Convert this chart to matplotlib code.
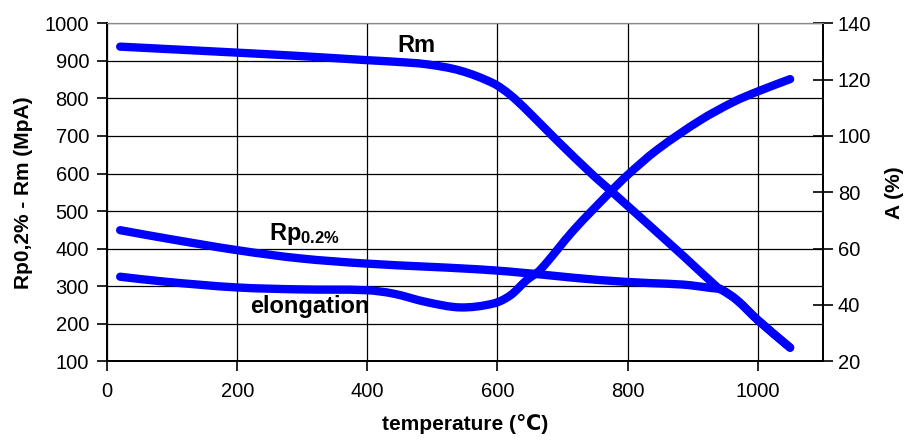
import numpy as np
import matplotlib.pyplot as plt
from matplotlib.path import Path
from matplotlib.patches import PathPatch

plt.rcParams['font.family'] = ['Liberation Sans', 'DejaVu Sans']
plt.rcParams['mathtext.fontset'] = 'custom'
plt.rcParams['mathtext.rm'] = 'Liberation Sans'
plt.rcParams['mathtext.bf'] = 'Liberation Sans:bold'

# strength curves (left axis, MPa)
rm_temp = [20, 200, 296, 399, 440, 491, 543, 594, 620, 645, 691, 748, 773, 886, 938, 945, 968, 1000, 1050]
rm_vals = [938, 922, 913, 902, 898, 891, 874, 840, 809, 769, 689, 594, 556, 380, 297, 290, 263, 210, 136]

rp_temp = [20, 91, 199, 296, 399, 594, 758, 835, 886, 928, 945, 968, 1000, 1050]
rp_vals = [449, 427, 396, 374, 360, 342, 316, 308, 304, 295, 290, 263, 210, 136]

# elongation (right axis, %)
a_temp = [20, 91, 199, 296, 399, 440, 491, 543, 594, 620, 645, 666, 717, 773, 800, 845, 912, 963, 999, 1050]
a_vals = [50, 48.2, 46.2, 45.5, 45.2, 44, 41, 39.1, 40.5, 43.4, 48.8, 52.5, 66.5, 80, 86.1, 95, 105.6, 112.1, 115.7, 120.2]

left_ticks = np.arange(100, 1001, 100)
right_ticks = np.arange(20, 141, 20)
x_ticks = np.arange(0, 1001, 200)

LINE = '#0000ff'


def smooth_path(xs, ys):
    # smoothed line like excel: hermite/bezier segments through the points
    x = np.asarray(xs, float)
    y = np.asarray(ys, float)
    n = len(x)
    m = np.zeros(n)
    m[0] = (y[1] - y[0]) / (x[1] - x[0])
    m[-1] = (y[-1] - y[-2]) / (x[-1] - x[-2])
    for i in range(1, n - 1):
        m[i] = (y[i + 1] - y[i - 1]) / (x[i + 1] - x[i - 1])
    verts = [(x[0], y[0])]
    codes = [Path.MOVETO]
    for i in range(n - 1):
        h = (x[i + 1] - x[i]) / 3
        verts += [(x[i] + h, y[i] + m[i] * h),
                  (x[i + 1] - h, y[i + 1] - m[i + 1] * h),
                  (x[i + 1], y[i + 1])]
        codes += [Path.CURVE4] * 3
    return Path(verts, codes)


def draw_line(axis, xs, ys):
    patch = PathPatch(smooth_path(xs, ys), facecolor='none', edgecolor=LINE,
                      linewidth=6, capstyle='round', joinstyle='round')
    axis.add_patch(patch)


fig = plt.figure(figsize=(9.08, 4.41), dpi=100)
ax = fig.add_axes([0.118, 0.181, 0.788, 0.766])
ax2 = ax.twinx()

ax.set_xlim(0, 1100)
ax.set_ylim(100, 1000)
ax2.set_ylim(20, 140)
ax.set_xticks(x_ticks)
ax.set_yticks(left_ticks)
ax2.set_yticks(right_ticks)

ax.grid(True, color='black', linewidth=0.9)
ax.set_axisbelow(True)

draw_line(ax, rm_temp, rm_vals)
draw_line(ax, rp_temp, rp_vals)
draw_line(ax2, a_temp, a_vals)

for s in ['left', 'bottom', 'right']:
    ax.spines[s].set_linewidth(1.3)
    ax2.spines[s].set_linewidth(1.3)
ax.spines['top'].set_color('#888888')
ax2.spines['top'].set_color('#888888')

ax.tick_params(axis='both', direction='out', length=7, width=1.2, labelsize=14.5, pad=6)
ax.tick_params(axis='x', pad=8)
ax2.tick_params(axis='y', direction='inout', length=14, width=1.2, labelsize=14.5, pad=4)

ax.set_xlabel('temperature (\u2103)', fontsize=15, fontweight='bold', labelpad=9)
ax.set_ylabel('Rp0,2% - Rm (MpA)', fontsize=15, fontweight='bold', labelpad=8)
ax2.set_ylabel('A (%)', fontsize=15, fontweight='bold', labelpad=10)

ax.text(475, 924, 'Rm', fontsize=17, fontweight='bold', ha='center', va='baseline')
ax.text(304, 422, r'$\mathbf{Rp_{0.2\%}}$', fontsize=17, ha='center', va='baseline')
ax.text(312, 228, 'elongation', fontsize=17, fontweight='bold', ha='center', va='baseline')

fig.savefig('out.png', dpi=100)
